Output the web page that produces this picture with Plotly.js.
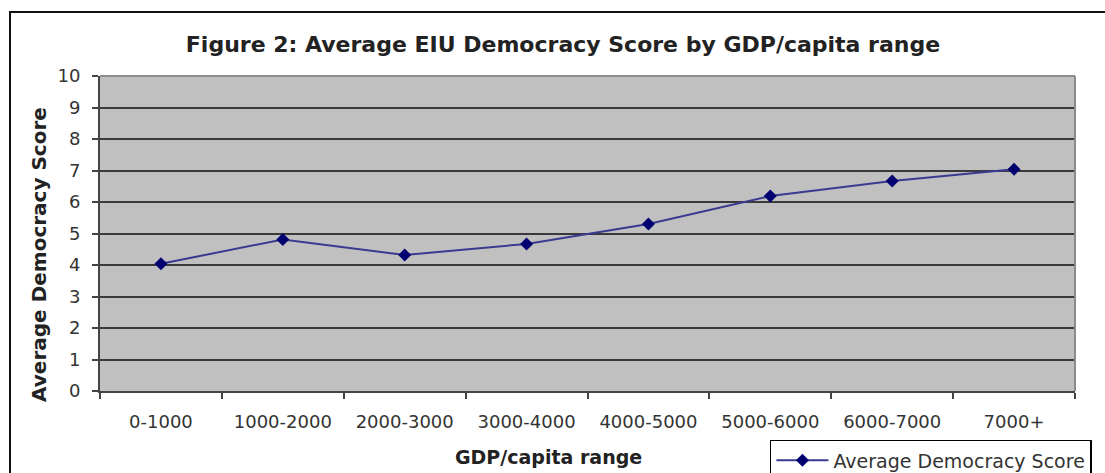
<!DOCTYPE html>
<html>
<head>
<meta charset="utf-8">
<script src="https://cdn.plot.ly/plotly-3.0.1.min.js"></script>
<style>
  html, body { margin: 0; padding: 0; background: #ffffff; }
  #chart { width: 1105px; height: 473px; }
</style>
</head>
<body>
<div id="chart"></div>
<script>
const categories = ["0-1000", "1000-2000", "2000-3000", "3000-4000", "4000-5000", "5000-6000", "6000-7000", "7000+"];
const scores = [4.04, 4.81, 4.32, 4.67, 5.30, 6.19, 6.67, 7.04];
const yTicks = [0, 1, 2, 3, 4, 5, 6, 7, 8, 9, 10];
const seriesName = "Average Democracy Score";
const chartTitle = "Figure 2: Average EIU Democracy Score by GDP/capita range";
const xTitle = "GDP/capita range";
const yTitle = "Average Democracy Score";

const FONT = '"DejaVu Sans", Verdana, sans-serif';

const trace = {
  type: 'scatter',
  mode: 'lines+markers',
  x: categories,
  y: scores,
  name: seriesName,
  line: { color: '#3a3a90', width: 2 },
  marker: { symbol: 'diamond', size: 10, color: '#000070', line: { width: 0 } }
};

const layout = {
  width: 1105,
  height: 473,
  margin: { l: 100, r: 30, t: 76, b: 82, autoexpand: false },
  paper_bgcolor: '#ffffff',
  plot_bgcolor: '#c0c0c0',
  font: { family: FONT, color: '#333333' },
  showlegend: true,
  title: {
    text: chartTitle,
    font: { family: FONT, size: 22, color: '#222222', weight: 'bold' },
    x: 0.5095, xref: 'container', xanchor: 'center',
    y: 0.907, yref: 'container', yanchor: 'middle'
  },
  xaxis: {
    type: 'category',
    range: [-0.5, 7.5],
    tickson: 'boundaries',
    ticks: 'outside',
    ticklen: 6,
    tickwidth: 2,
    tickcolor: '#444444',
    showline: true,
    linecolor: '#444444',
    linewidth: 2,
    showgrid: false,
    zeroline: false,
    tickfont: { family: FONT, size: 18, color: '#333333' },
    ticklabelstandoff: 13,
    fixedrange: true
  },
  yaxis: {
    range: [0, 10],
    tickvals: yTicks,
    ticktext: yTicks.map(String),
    ticks: 'outside',
    ticklen: 6,
    tickwidth: 2,
    tickcolor: '#444444',
    showline: true,
    linecolor: '#444444',
    linewidth: 2,
    showgrid: true,
    gridcolor: '#3a3a3a',
    gridwidth: 2,
    zeroline: false,
    tickfont: { family: FONT, size: 18, color: '#333333' },
    ticklabelstandoff: 8,
    fixedrange: true
  },
  legend: {
    xref: 'container', yref: 'container',
    x: 0.6968, xanchor: 'left',
    y: 0.0698, yanchor: 'top',
    bgcolor: '#ffffff',
    bordercolor: '#000000',
    borderwidth: 1.5,
    itemwidth: 52,
    font: { family: FONT, size: 19, color: '#333333' }
  },
  annotations: [
    {
      text: xTitle,
      xref: 'paper', yref: 'paper',
      x: 0.4595, y: -0.2095,
      xanchor: 'center', yanchor: 'middle',
      showarrow: false,
      font: { family: FONT, size: 19, color: '#222222', weight: 'bold' }
    },
    {
      text: yTitle,
      textangle: -90,
      xref: 'paper', yref: 'paper',
      x: -0.0626, y: 0.435,
      xanchor: 'center', yanchor: 'middle',
      showarrow: false,
      font: { family: FONT, size: 20, color: '#222222', weight: 'bold' }
    }
  ],
  shapes: [
    { type: 'line', xref: 'paper', yref: 'paper', x0: 0, x1: 1, y0: 1, y1: 1,
      line: { color: '#8c8c8c', width: 2 }, layer: 'above' },
    { type: 'line', xref: 'paper', yref: 'paper', x0: 1, x1: 1, y0: 0, y1: 1,
      line: { color: '#8c8c8c', width: 2 }, layer: 'above' },
    { type: 'rect', xref: 'paper', yref: 'paper', x0: -0.0923, x1: 1.2, y0: -0.5, y1: 1.2032,
      line: { color: '#111111', width: 2 }, fillcolor: 'rgba(0,0,0,0)', layer: 'above' }
  ]
};

Plotly.newPlot('chart', [trace], layout, { displayModeBar: false, staticPlot: true });
</script>
</body>
</html>
